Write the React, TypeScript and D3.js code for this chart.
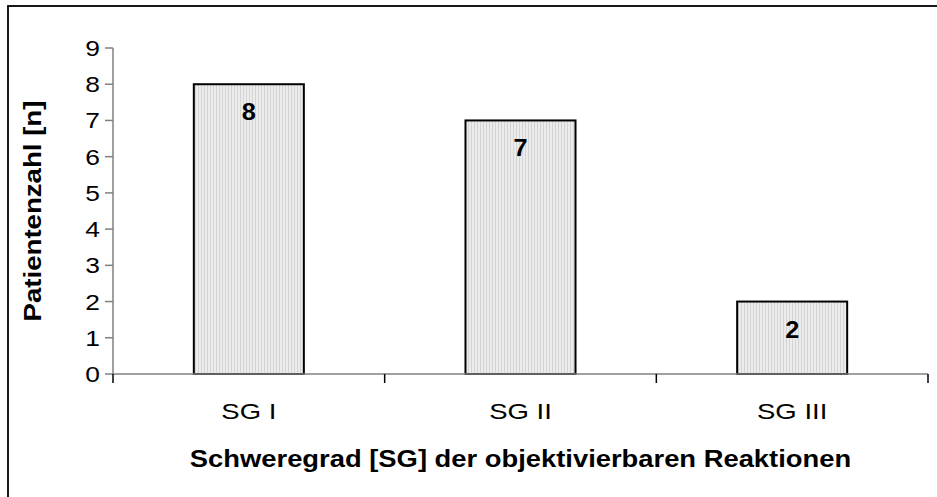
import React from 'react';
import { scaleLinear, range } from 'd3';

const categories = ['SG I', 'SG II', 'SG III'];
const counts = [8, 7, 2];
const yTicks = [0, 1, 2, 3, 4, 5, 6, 7, 8, 9];

const width = 937;
const height = 497;
const margin = { top: 48, right: 9, bottom: 123, left: 113 };

export default function App() {
  const y = scaleLinear()
    .domain([0, 9])
    .range([height - margin.bottom, margin.top]);

  const x0 = margin.left;
  const x1 = width - margin.right;
  const y0 = y(0);
  const bw = (x1 - x0) / categories.length;
  // category boundaries for the x-axis ticks
  const boundaries = range(categories.length + 1).map((i) => x0 + i * bw);
  const barW = bw * 0.405;

  return (
    <svg
      width={width}
      height={height}
      style={{ position: 'absolute', left: 0, top: 0, fontFamily: 'Arial, "Liberation Sans", sans-serif' }}
    >
      <defs>
        <pattern id="stripes" width="3" height="4" patternUnits="userSpaceOnUse">
          <rect width="3" height="4" fill="#ececec" />
          <rect x="0" width="1" height="4" fill="#d4d4d4" />
        </pattern>
      </defs>
      <rect x={0} y={0} width={width} height={height} fill="#fff" />
      {/* outer frame */}
      <rect x={8} y={6} width={width + 10} height={height + 10} fill="none" stroke="#000" strokeWidth={1.8} />

      {/* bars */}
      {categories.map((c, i) => {
        const cx = x0 + bw * (i + 0.5);
        return (
          <g key={c}>
            <rect
              x={cx - barW / 2}
              y={y(counts[i])}
              width={barW}
              height={y0 - y(counts[i])}
              fill="url(#stripes)"
              stroke="#000"
              strokeWidth={2}
            />
            <text
              transform={`translate(${cx},${y(counts[i]) + 36}) scale(1.1,1)`}
              textAnchor="middle"
              fontWeight="bold"
              fontSize={23}
            >
              {counts[i]}
            </text>
            <text transform={`translate(${cx},419) scale(1.25,1)`} textAnchor="middle" fontSize={22}>
              {c}
            </text>
          </g>
        );
      })}

      {/* y axis */}
      <line x1={x0} x2={x0} y1={y(9)} y2={y0} stroke="#808080" strokeWidth={1.5} />
      {yTicks.map((t) => (
        <g key={t}>
          <line x1={x0 - 8} x2={x0} y1={y(t)} y2={y(t)} stroke="#808080" strokeWidth={1.5} />
          <text transform={`translate(${x0 - 13},${y(t) + 8}) scale(1.2,1)`} textAnchor="end" fontSize={22}>
            {t}
          </text>
        </g>
      ))}

      {/* x axis */}
      <line x1={x0} x2={x1} y1={y0} y2={y0} stroke="#808080" strokeWidth={1.5} />
      {boundaries.map((b, i) => (
        <line key={i} x1={b} x2={b} y1={y0} y2={y0 + 9} stroke="#000" strokeWidth={1.5} />
      ))}

      <text
        transform={`translate(41,${(y(9) + y0) / 2}) rotate(-90) scale(1.15,1)`}
        textAnchor="middle"
        fontWeight="bold"
        fontSize={24}
      >
        Patientenzahl [n]
      </text>
      <text
        transform={`translate(${(x0 + x1) / 2},467) scale(1.19,1)`}
        textAnchor="middle"
        fontWeight="bold"
        fontSize={23}
      >
        Schweregrad [SG] der objektivierbaren Reaktionen
      </text>
    </svg>
  );
}
